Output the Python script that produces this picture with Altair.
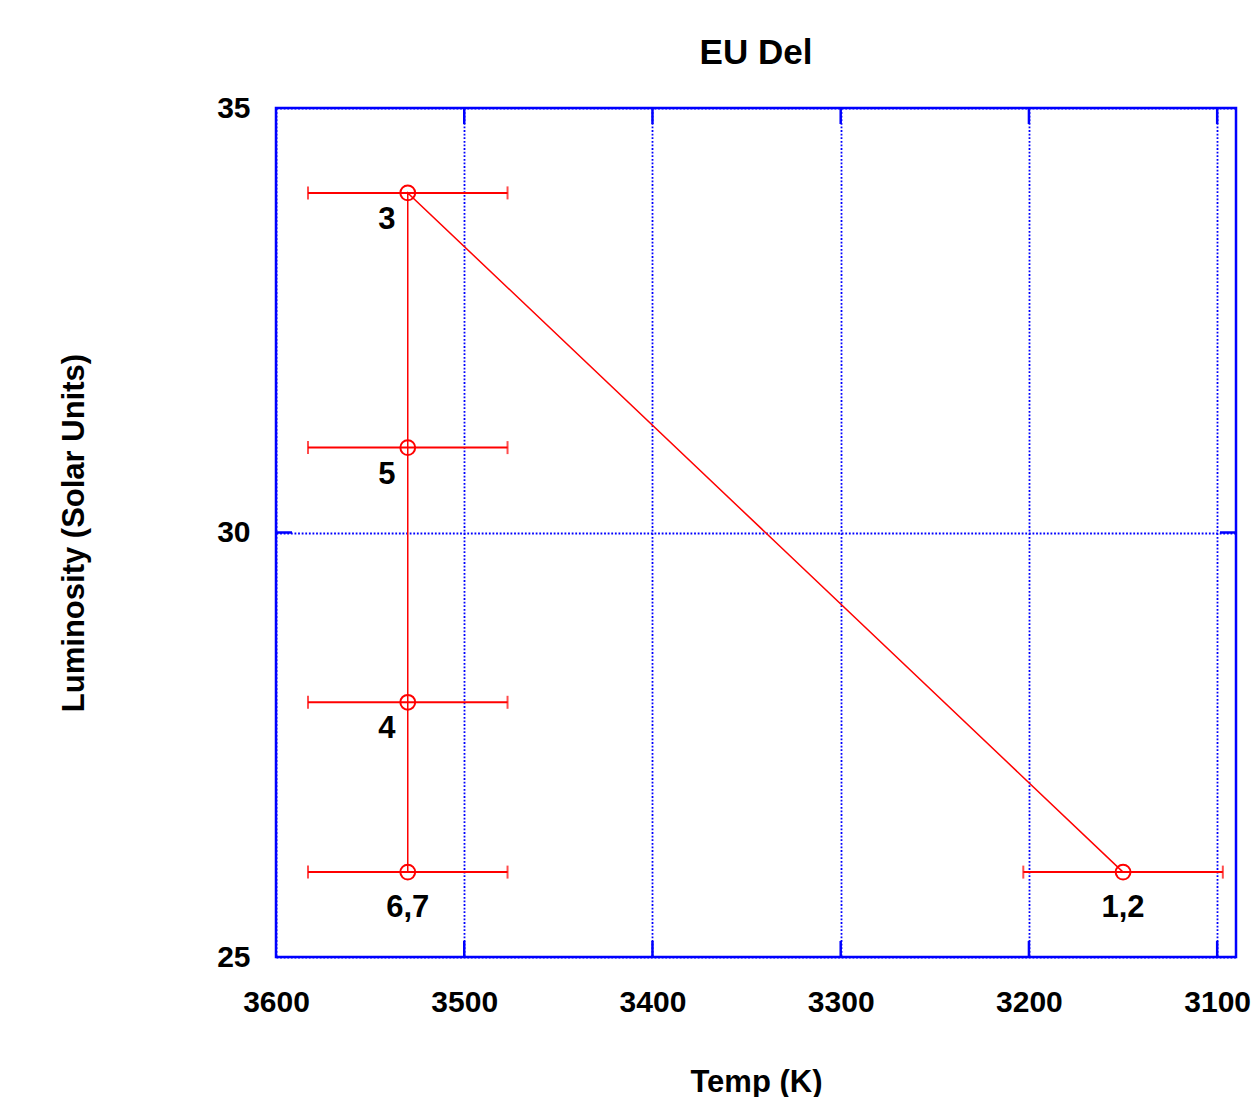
import altair as alt
import pandas as pd

# Data
labels = ["1,2", "3", "4", "5", "6,7"]
temps = [3150, 3530, 3530, 3530, 3530]
lums = [26, 34, 28, 31, 26]
temp_err = [53, 53, 53, 53, 53]

x_tick_values = [3600, 3500, 3400, 3300, 3200, 3100]
y_tick_values = [25, 30, 35]
x_domain = [3600, 3090]
y_domain = [25, 35]

W, H = 960, 849
BLUE = "#0000ff"
RED = "#ff0000"
FONT = "Liberation Sans"

df = pd.DataFrame({
    "label": labels,
    "temp": temps,
    "lum": lums,
    "lo": [t - e for t, e in zip(temps, temp_err)],
    "hi": [t + e for t, e in zip(temps, temp_err)],
    "order": list(range(len(labels))),
})
left_labels = df[df["label"].isin(["3", "4", "5"])]
bottom_labels = df[df["label"].isin(["1,2", "6,7"])]

xscale = alt.Scale(domain=x_domain, nice=False, zero=False)
yscale = alt.Scale(domain=y_domain, nice=False, zero=False)

XT = "Temp (K)"
YT = "Luminosity (Solar Units)"

xaxis = alt.Axis(values=x_tick_values, format="d", labelPadding=30,
                 labelFlush=False, labelOverlap=False,
                 titleY=134, titleBaseline="alphabetic")
yaxis = alt.Axis(values=y_tick_values, format="d", labelPadding=26,
                 labelFlush=False, labelOverlap=False,
                 titleX=-193, titleBaseline="alphabetic")

def X(field="temp"):
    return alt.X(f"{field}:Q", scale=xscale, axis=xaxis, title=XT)

def Y(field="lum"):
    return alt.Y(f"{field}:Q", scale=yscale, axis=yaxis, title=YT)

base = alt.Chart(df)

line = base.mark_line(color=RED, strokeWidth=1.5).encode(
    x=X(), y=Y(), order="order:Q"
)
err = base.mark_rule(color=RED, strokeWidth=2).encode(
    x=X("lo"), x2="hi:Q", y=Y()
)
cap_lo = base.mark_tick(color=RED, orient="vertical", size=13, thickness=2).encode(
    x=X("lo"), y=Y()
)
cap_hi = base.mark_tick(color=RED, orient="vertical", size=13, thickness=2).encode(
    x=X("hi"), y=Y()
)
pts = base.mark_point(shape="circle", size=220, color=RED, filled=False,
                      strokeWidth=2, opacity=1).encode(x=X(), y=Y())

txt_left = alt.Chart(left_labels).mark_text(
    font=FONT, fontSize=31, fontWeight="bold", color="black",
    dx=-21, dy=27, baseline="middle", align="center"
).encode(x=X(), y=Y(), text="label:N")
txt_bottom = alt.Chart(bottom_labels).mark_text(
    font=FONT, fontSize=31, fontWeight="bold", color="black",
    dx=0, dy=36, baseline="middle", align="center"
).encode(x=X(), y=Y(), text="label:N")

# inward tick marks (gnuplot style)
xt_df = pd.DataFrame({"temp": x_tick_values[1:]})
yt_df = pd.DataFrame({"lum": y_tick_values[1:-1]})
xt_bottom = alt.Chart(xt_df).mark_rule(color=BLUE, strokeWidth=2.5).encode(
    x=X(), y=alt.value(H), y2=alt.value(H - 16)
)
xt_top = alt.Chart(xt_df).mark_rule(color=BLUE, strokeWidth=2.5).encode(
    x=X(), y=alt.value(0), y2=alt.value(16)
)
yt_left = alt.Chart(yt_df).mark_rule(color=BLUE, strokeWidth=2.5).encode(
    y=Y(), x=alt.value(0), x2=alt.value(16)
)
yt_right = alt.Chart(yt_df).mark_rule(color=BLUE, strokeWidth=2.5).encode(
    y=Y(), x=alt.value(W), x2=alt.value(W - 16)
)

chart = alt.layer(
    xt_bottom, xt_top, yt_left, yt_right,
    line, err, cap_lo, cap_hi, pts, txt_left, txt_bottom
).properties(
    width=W, height=H,
    background="white",
    title=alt.TitleParams("EU Del", font=FONT, fontSize=35, fontWeight="bold",
                          color="black", anchor="middle", frame="group",
                          baseline="alphabetic", offset=41, dy=47),
    autosize=alt.AutoSizeParams(type="none"),
    padding={"left": 268, "top": 100, "right": 16, "bottom": 140},
).configure_view(
    stroke=BLUE, strokeWidth=2.5
).configure_axis(
    domain=False, ticks=False, grid=True,
    gridColor=BLUE, gridDash=[1.8, 1.8], gridWidth=1.8, gridOpacity=1,
    labelFont=FONT, labelFontSize=30, labelFontWeight="bold", labelColor="black",
    titleFont=FONT, titleFontSize=31, titleFontWeight="bold", titleColor="black",
)

chart.save("out.html", embed_options={"renderer": "svg", "actions": False})
